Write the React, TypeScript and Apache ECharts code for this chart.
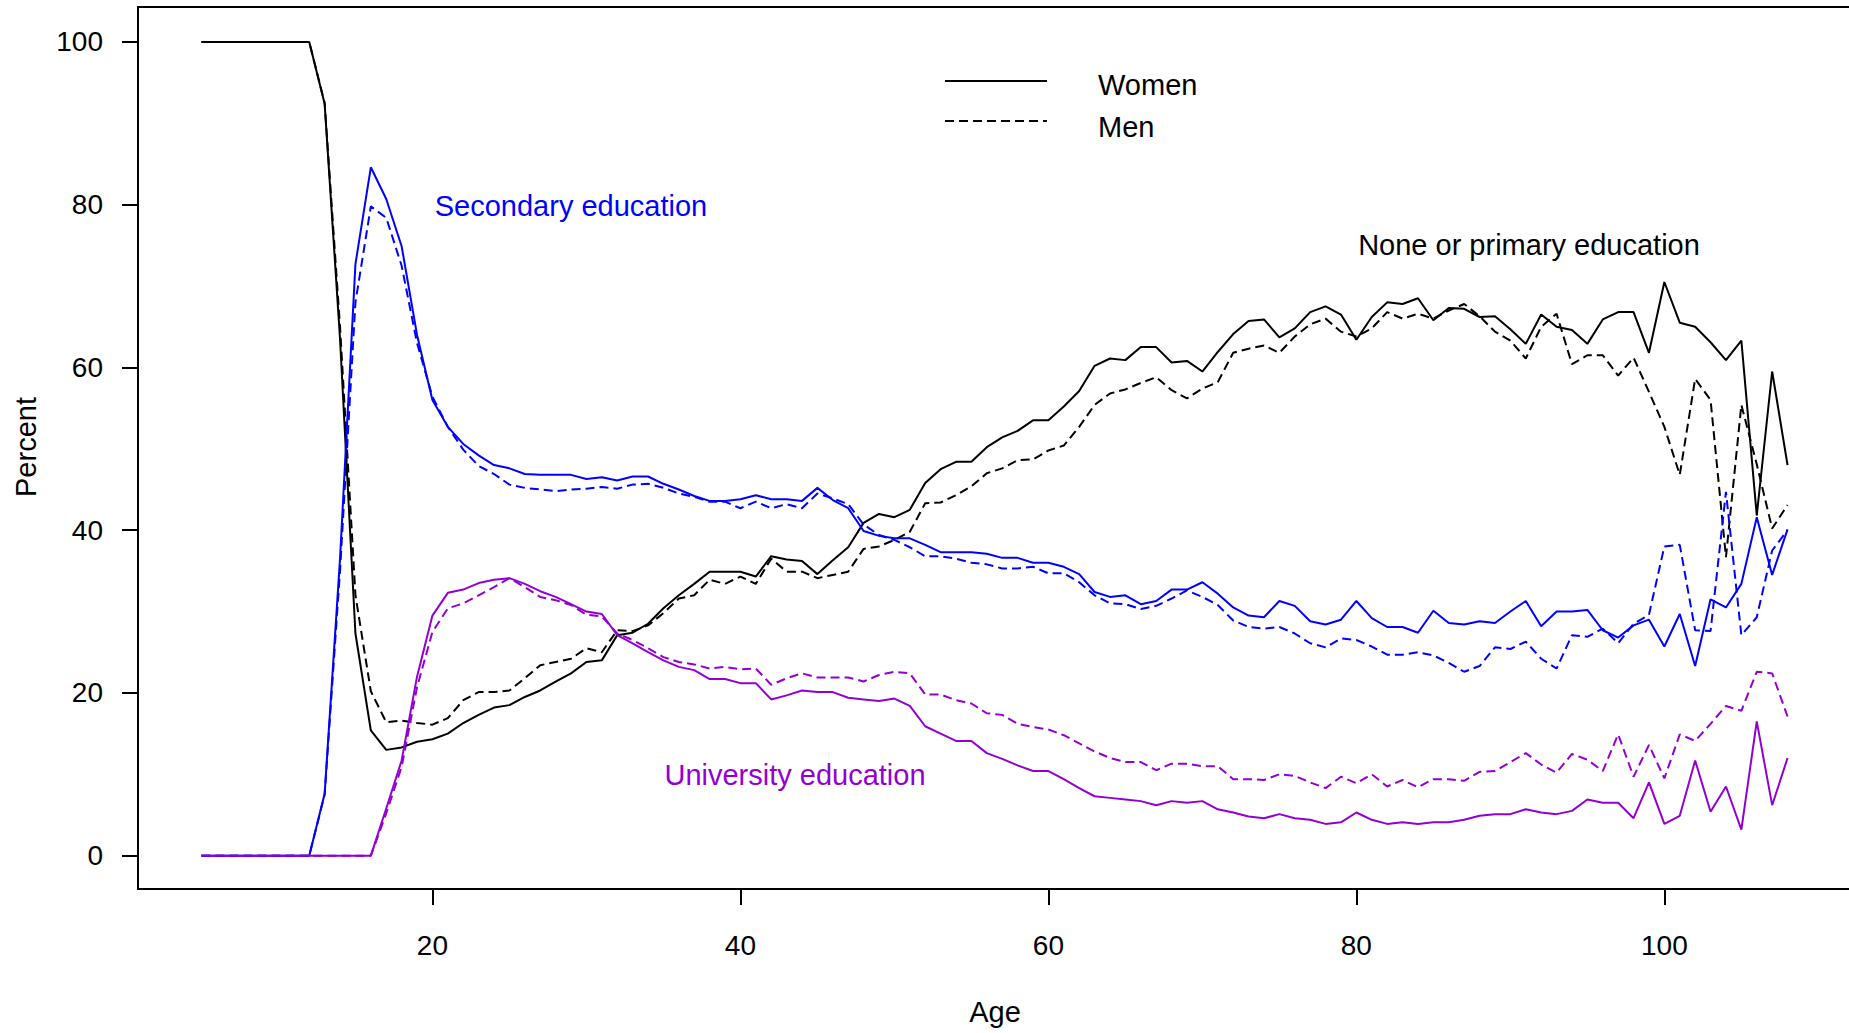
import React, { useEffect, useRef } from "react";
import * as echarts from "echarts";

const AGES = [5, 6, 7, 8, 9, 10, 11, 12, 13, 14, 15, 16, 17, 18, 19, 20, 21, 22, 23, 24, 25, 26, 27, 28, 29, 30, 31, 32, 33, 34, 35, 36, 37, 38, 39, 40, 41, 42, 43, 44, 45, 46, 47, 48, 49, 50, 51, 52, 53, 54, 55, 56, 57, 58, 59, 60, 61, 62, 63, 64, 65, 66, 67, 68, 69, 70, 71, 72, 73, 74, 75, 76, 77, 78, 79, 80, 81, 82, 83, 84, 85, 86, 87, 88, 89, 90, 91, 92, 93, 94, 95, 96, 97, 98, 99, 100, 101, 102, 103, 104, 105, 106, 107, 108];

const WOMEN_NONE = [100, 100, 100, 100, 100, 100, 100, 100,
  92.4, 63.5, 27.3, 15.4, 13.0, 13.3, 14.0, 14.3,
  15.0, 16.3, 17.3, 18.2, 18.5, 19.5, 20.3, 21.4, 22.4, 23.8,
  24.0, 27.1, 27.4, 28.5, 30.4, 32.0, 33.4, 34.9, 34.9, 34.9,
  34.3, 36.8, 36.4, 36.2, 34.6, 36.3, 37.9, 40.9, 42.0, 41.6,
  42.5, 45.8, 47.5, 48.4, 48.4, 50.2, 51.4, 52.2, 53.5, 53.5,
  55.2, 57.1, 60.2, 61.1, 60.9, 62.5, 62.5, 60.6, 60.8, 59.5,
  61.9, 64.1, 65.7, 65.9, 63.7, 64.8, 66.8, 67.5, 66.5, 63.4,
  66.2, 68.0, 67.8, 68.5, 65.8, 67.3, 67.2, 66.2, 66.3, 64.7,
  62.9, 66.5, 65.0, 64.6, 62.9, 65.9, 66.8, 66.8, 61.8, 70.5,
  65.5, 65.0, 63.1, 60.9, 63.3, 41.8, 59.5, 48.0];

const WOMEN_SECONDARY = [0, 0, 0, 0, 0, 0, 0, 0,
  7.6, 36.5, 72.7, 84.6, 80.7, 74.9, 64.0, 56.0,
  52.7, 50.6, 49.2, 48.0, 47.6, 46.9, 46.8, 46.8, 46.8, 46.3,
  46.5, 46.1, 46.6, 46.6, 45.7, 45.0, 44.2, 43.6, 43.6, 43.8,
  44.3, 43.8, 43.8, 43.6, 45.2, 43.7, 42.7, 39.9, 39.3, 39.0,
  39.0, 38.2, 37.3, 37.3, 37.3, 37.1, 36.6, 36.6, 36.0, 36.0,
  35.5, 34.6, 32.4, 31.8, 32.0, 30.9, 31.3, 32.7, 32.7, 33.6,
  32.2, 30.5, 29.5, 29.3, 31.3, 30.7, 28.8, 28.4, 29.0, 31.3,
  29.2, 28.1, 28.1, 27.4, 30.1, 28.6, 28.4, 28.8, 28.6, 30.0,
  31.3, 28.2, 30.0, 30.0, 30.2, 27.7, 26.8, 28.3, 29.0, 25.7,
  29.7, 23.3, 31.5, 30.5, 33.4, 41.6, 34.5, 40.1];

const WOMEN_UNIVERSITY = [0, 0, 0, 0, 0, 0, 0, 0,
  0, 0, 0, 0, 5.8, 11.7, 22.0, 29.5,
  32.3, 32.7, 33.5, 33.9, 34.1, 33.4, 32.5, 31.8, 30.9, 30.0,
  29.7, 27.1, 26.1, 25.0, 24.0, 23.2, 22.8, 21.7, 21.7, 21.2,
  21.2, 19.2, 19.7, 20.3, 20.1, 20.1, 19.4, 19.2, 19.0, 19.3,
  18.4, 15.9, 15.0, 14.1, 14.1, 12.6, 11.9, 11.1, 10.4, 10.4,
  9.4, 8.3, 7.3, 7.1, 6.9, 6.7, 6.2, 6.7, 6.5, 6.7,
  5.7, 5.3, 4.8, 4.6, 5.1, 4.6, 4.4, 3.9, 4.1, 5.3,
  4.4, 3.9, 4.1, 3.9, 4.1, 4.1, 4.4, 4.9, 5.1, 5.1,
  5.7, 5.3, 5.1, 5.5, 6.9, 6.5, 6.5, 4.6, 9.0, 3.9,
  4.9, 11.7, 5.4, 8.5, 3.2, 16.5, 6.2, 12.0];

const MEN_NONE = [100, 100, 100, 100, 100, 100, 100, 100,
  92.5, 65.0, 32.0, 20.2, 16.4, 16.6, 16.3, 16.1,
  16.9, 19.1, 20.1, 20.1, 20.3, 21.8, 23.4, 23.8, 24.2, 25.5,
  25.0, 27.7, 27.6, 28.3, 29.8, 31.6, 32.0, 33.9, 33.4, 34.3,
  33.4, 36.5, 34.9, 34.9, 34.1, 34.5, 34.9, 37.7, 38.0, 38.8,
  39.8, 43.3, 43.4, 44.3, 45.4, 47.0, 47.6, 48.6, 48.7, 49.8,
  50.4, 52.7, 55.4, 56.8, 57.3, 58.1, 58.8, 57.2, 56.2, 57.4,
  58.2, 61.8, 62.3, 62.7, 61.8, 63.8, 65.3, 66.0, 64.4, 63.8,
  64.8, 66.8, 66.0, 66.6, 66.0, 67.0, 67.8, 66.3, 64.4, 63.3,
  61.1, 65.0, 66.6, 60.4, 61.5, 61.5, 59.0, 61.2, 57.0, 52.7,
  46.8, 58.6, 56.0, 36.7, 55.4, 48.1, 40.2, 43.1];

const MEN_SECONDARY = [0, 0, 0, 0, 0, 0, 0, 0,
  7.5, 35.0, 68.0, 79.8, 78.4, 72.5, 63.0, 56.4,
  52.7, 49.9, 47.9, 46.9, 45.6, 45.2, 45.0, 44.8, 45.0, 45.1,
  45.3, 45.1, 45.6, 45.7, 45.2, 44.5, 44.1, 43.5, 43.5, 42.7,
  43.5, 42.7, 43.2, 42.7, 44.5, 43.9, 43.2, 40.7, 39.4, 38.8,
  37.9, 36.8, 36.8, 36.5, 36.0, 35.8, 35.3, 35.3, 35.5, 34.7,
  34.7, 33.6, 32.0, 31.0, 30.9, 30.3, 30.7, 31.6, 32.6, 31.8,
  30.8, 28.9, 28.1, 27.9, 28.1, 27.3, 26.1, 25.6, 26.7, 26.5,
  25.7, 24.7, 24.7, 25.0, 24.6, 23.7, 22.6, 23.3, 25.6, 25.4,
  26.3, 24.2, 23.0, 27.1, 26.9, 27.9, 26.1, 28.5, 29.6, 38.0,
  38.2, 27.7, 27.6, 44.7, 27.1, 29.3, 37.5, 40.0];

const MEN_UNIVERSITY = [0, 0, 0, 0, 0, 0, 0, 0,
  0, 0, 0, 0, 5.2, 10.9, 20.7, 27.5,
  30.4, 31.0, 32.0, 33.0, 34.1, 33.0, 31.8, 31.4, 30.8, 29.6,
  29.4, 27.3, 26.5, 25.5, 24.4, 23.8, 23.5, 23.0, 23.2, 22.9,
  23.0, 21.0, 21.8, 22.4, 21.9, 21.9, 21.9, 21.4, 22.2, 22.6,
  22.4, 19.8, 19.8, 19.1, 18.7, 17.5, 17.3, 16.2, 15.8, 15.5,
  14.8, 13.8, 12.8, 12.0, 11.5, 11.5, 10.5, 11.3, 11.3, 11.0,
  11.0, 9.4, 9.4, 9.3, 10.0, 9.8, 9.0, 8.3, 9.7, 8.9,
  10.0, 8.5, 9.3, 8.4, 9.4, 9.4, 9.2, 10.3, 10.4, 11.5,
  12.6, 11.2, 10.2, 12.5, 11.8, 10.4, 14.9, 9.7, 13.6, 9.5,
  14.9, 14.1, 16.2, 18.4, 17.8, 22.6, 22.4, 17.1];

const X_TICKS = [20, 40, 60, 80, 100];
const Y_TICKS = [0, 20, 40, 60, 80, 100];

const FONT = '"Liberation Sans", Arial, Helvetica, sans-serif';
const BLACK = "#000000";
const BLUE = "#0000FF";
const PURPLE = "#9400D3";
const DASH = [9, 5];

function pairs(values: number[]) {
  return AGES.map((a, i) => [a, values[i]]);
}

function lineSeries(name: string, values: number[], color: string, dashed: boolean) {
  return {
    name,
    type: "line",
    data: pairs(values),
    symbol: "none",
    silent: true,
    lineStyle: { color, width: 2, type: dashed ? DASH : "solid" },
    z: dashed ? 2 : 3,
  };
}

export default function App() {
  const ref = useRef<HTMLDivElement | null>(null);

  useEffect(() => {
    if (!ref.current) return;
    const chart = echarts.init(ref.current, null, { renderer: "svg" });
    const option: any = {
      animation: false,
      backgroundColor: "#ffffff",
      grid: {
        left: 138,
        top: 7,
        width: 1713,
        height: 882,
        show: true,
        borderColor: BLACK,
        borderWidth: 2,
        backgroundColor: "transparent",
        containLabel: false,
        outerBoundsMode: "none",
      },
      xAxis: {
        type: "value",
        min: 0.88,
        max: 112.12,
        axisLine: { show: true, onZero: false, lineStyle: { color: BLACK, width: 2 } },
        axisTick: {
          show: true,
          customValues: X_TICKS,
          length: 16,
          lineStyle: { color: BLACK, width: 2 },
        },
        axisLabel: {
          show: true,
          customValues: X_TICKS,
          fontSize: 28,
          fontFamily: FONT,
          color: BLACK,
          margin: 42,
        },
        splitLine: { show: false },
      },
      yAxis: {
        type: "value",
        min: -4.1,
        max: 104.3,
        axisLine: { show: true, onZero: false, lineStyle: { color: BLACK, width: 2 } },
        axisTick: {
          show: true,
          customValues: Y_TICKS,
          length: 16,
          lineStyle: { color: BLACK, width: 2 },
        },
        axisLabel: {
          show: true,
          customValues: Y_TICKS,
          fontSize: 28,
          fontFamily: FONT,
          color: BLACK,
          margin: 35,
        },
        splitLine: { show: false },
      },
      series: [
        lineSeries("Men – None or primary education", MEN_NONE, BLACK, true),
        lineSeries("Men – Secondary education", MEN_SECONDARY, BLUE, true),
        lineSeries("Men – University education", MEN_UNIVERSITY, PURPLE, true),
        lineSeries("Women – None or primary education", WOMEN_NONE, BLACK, false),
        lineSeries("Women – Secondary education", WOMEN_SECONDARY, BLUE, false),
        lineSeries("Women – University education", WOMEN_UNIVERSITY, PURPLE, false),
      ],
      graphic: [
        {
          type: "line",
          shape: { x1: 945, y1: 81, x2: 1047, y2: 81 },
          style: { stroke: BLACK, lineWidth: 2 },
        },
        {
          type: "line",
          shape: { x1: 945, y1: 121, x2: 1047, y2: 121 },
          style: { stroke: BLACK, lineWidth: 2, lineDash: DASH },
        },
        {
          type: "text",
          x: 1098,
          y: 85,
          style: { text: "Women", fontSize: 29, fontFamily: FONT, fill: BLACK, align: "left", verticalAlign: "middle" },
        },
        {
          type: "text",
          x: 1098,
          y: 127,
          style: { text: "Men", fontSize: 29, fontFamily: FONT, fill: BLACK, align: "left", verticalAlign: "middle" },
        },
        {
          type: "text",
          x: 571,
          y: 206,
          style: { text: "Secondary education", fontSize: 29, fontFamily: FONT, fill: BLUE, align: "center", verticalAlign: "middle" },
        },
        {
          type: "text",
          x: 1529,
          y: 245,
          style: { text: "None or primary education", fontSize: 29, fontFamily: FONT, fill: BLACK, align: "center", verticalAlign: "middle" },
        },
        {
          type: "text",
          x: 795,
          y: 775,
          style: { text: "University education", fontSize: 29, fontFamily: FONT, fill: PURPLE, align: "center", verticalAlign: "middle" },
        },
        {
          type: "text",
          x: 995,
          y: 1012,
          style: { text: "Age", fontSize: 29, fontFamily: FONT, fill: BLACK, align: "center", verticalAlign: "middle" },
        },
        {
          type: "text",
          x: 26,
          y: 447,
          rotation: Math.PI / 2,
          style: { text: "Percent", fontSize: 29, fontFamily: FONT, fill: BLACK, align: "center", verticalAlign: "middle" },
        },
      ],
    };
    chart.setOption(option);
    return () => chart.dispose();
  }, []);

  return (
    <div
      ref={ref}
      style={{ position: "fixed", left: 0, top: 0, width: 1849, height: 1033, background: "#ffffff" }}
    />
  );
}
